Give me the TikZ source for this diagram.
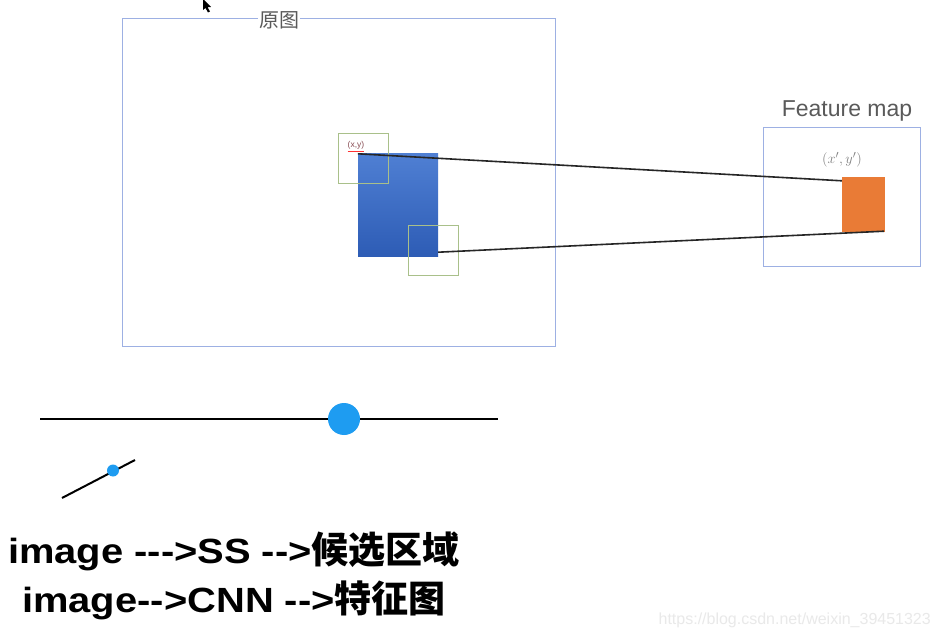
\documentclass[tikz,border=0pt]{standalone}
\usepackage{fontspec}
\setmainfont{Liberation Sans}
\newfontfamily\cjk{Noto Sans CJK SC}
\newfontfamily\widesans{Liberation Sans}[FakeStretch=1.14]
\usetikzlibrary{calc}
\definecolor{frameblue}{HTML}{9DB0E3}
\definecolor{boxgreen}{HTML}{A9C08A}
\definecolor{rectblueA}{HTML}{4F7FD3}
\definecolor{rectblueB}{HTML}{2D5CB5}
\definecolor{mapor}{HTML}{E97B36}
\definecolor{dotblue}{HTML}{1E9CF1}
\definecolor{labgray}{HTML}{5A5A5A}
\definecolor{wmgray}{HTML}{E9E9E9}
\definecolor{xyred}{HTML}{8A4F55}
\tikzset{
  frame/.style={draw=frameblue, line width=1pt, inner sep=0pt},
  gbox/.style={draw=boxgreen, line width=1pt, inner sep=0pt, minimum width=50, minimum height=50},
  conn/.style={draw=black!85, line width=1.6pt},
  blackline/.style={draw=black, line width=2pt},
  bigtext/.style={font=\widesans\fontsize{35}{40}\selectfont\bfseries, anchor=base, inner sep=0pt},
}
\newcommand\cjkbig[1]{{\cjk\fontsize{37}{40}\selectfont\bfseries #1}}
\begin{document}
\begin{tikzpicture}[x=1pt,y=-1pt]
\useasboundingbox (0,0) rectangle (942,636);
\fill[white] (0,0) rectangle (942,636);

% cursor
\fill[black] (203,-1) -- (203,10) -- (205.5,8) -- (208,12.5) -- (210,11.5) -- (207.6,7.2) -- (211,7) -- cycle;

% original image frame
\node[frame, minimum width=433, minimum height=327] (orig) at (338.5,182.5) {};
\node[fill=white, inner sep=1pt, text=labgray, font=\cjk\fontsize{20}{22}\selectfont] (origlbl) at (279,20) {原图};

% blue region
\node[inner sep=0pt, minimum width=80, minimum height=103, top color=rectblueA, bottom color=rectblueB, draw=none] (reg) at (398,205.5) {};

% green boxes
\node[gbox] (g1) at (363,158.5) {};
\node[gbox] (g2) at (433,251) {};

% (x,y) label
\node[inner sep=0pt, text=xyred, font=\fontsize{8.5}{9}\selectfont] (xy) at (356,145) {(x,y)};
\draw[red!80, line width=0.8pt] ($(xy.south west)+(0,2)$) -- ($(xy.south east)+(0,2)$);

% feature map frame
\node[frame, minimum width=157, minimum height=139] (fmap) at (841.5,197.5) {};
\node[inner sep=0pt, text=labgray, font=\fontsize{23}{26}\selectfont] (fmlbl) at (847,111) {Feature map};
\node[inner sep=0pt, text=gray, font=\fontsize{15}{17}\selectfont] (xyp) at (842,160) {$(x',y')$};
\node[inner sep=0pt, fill=mapor, minimum width=43, minimum height=55] (om) at (863.5,204.5) {};

% connectors
\coordinate (ta) at (reg.north west);
\coordinate (tb) at ($(om.north west)+(0,4)$);
\coordinate (ba) at ($(reg.south east)+(0,-5)$);
\coordinate (bb) at ($(om.south east)+(-1,-1)$);
\draw[conn] (ta) -- (tb);
\draw[conn] (ba) -- (bb);

% horizontal line with dot
\coordinate (h1) at (40,419);
\coordinate (h2) at (498,419);
\draw[blackline] (h1) -- (h2);
\node[circle, fill=dotblue, inner sep=0pt, minimum size=32] (bigdot) at (344,419) {};

% small slanted line with dot
\coordinate (s1) at (62,498);
\coordinate (s2) at (135,460);
\draw[blackline] (s1) -- (s2);
\node[circle, fill=dotblue, inner sep=0pt, minimum size=12] (smalldot) at (113,470.5) {};

% bottom text
\node[bigtext] (t1) at (234,563) {image -{}-{}-{}>SS -{}-{}>\cjkbig{候选区域}};
\node[bigtext] (t2) at (234,612) {image-{}-{}>CNN -{}-{}>\cjkbig{特征图}};

% watermark
\node[inner sep=0pt, anchor=base east, text=wmgray, font=\fontsize{16}{18}\selectfont] (wm) at (931,624) {https://blog.csdn.net/weixin\_39451323};
\end{tikzpicture}
\end{document}
